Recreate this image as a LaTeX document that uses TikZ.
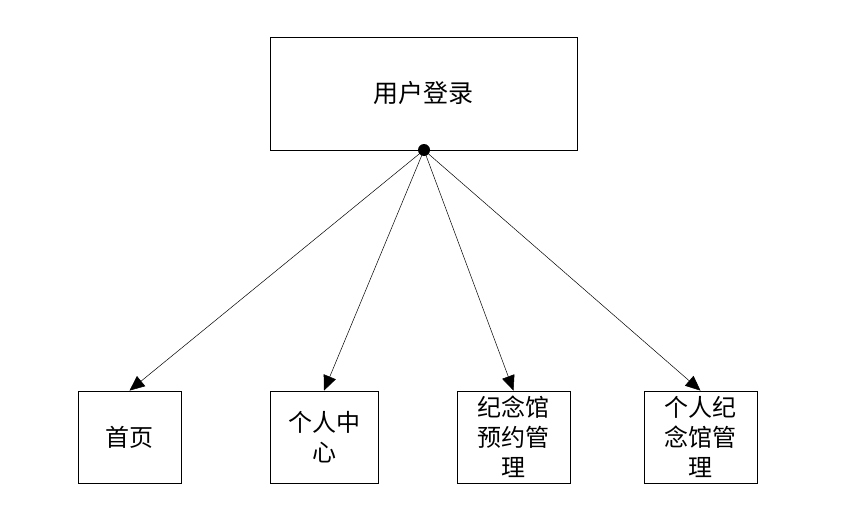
\documentclass[tikz,border=0pt]{standalone}
\usepackage{fontspec}
\newfontfamily\cjk{Noto Sans CJK SC}
\usetikzlibrary{arrows.meta,positioning}
\tikzset{
	box/.style={draw,rectangle,align=center,line width=0.8pt,inner sep=0pt,font=\cjk\fontsize{24}{30}\selectfont},
	part/.style={box,minimum height=92pt},
	hub/.style={circle,fill,inner sep=0pt,minimum size=12pt},
	link/.style={-{Triangle[length=15pt,width=13pt]},line width=0.5pt}
}
\begin{document}
\begin{tikzpicture}[x=1pt,y=-1pt]
            \useasboundingbox (0,0) rectangle (845,506);
            \node[box,minimum width=307pt,minimum height=113pt,font=\cjk\fontsize{25}{30}\selectfont] (login) at (423.5,93.5) {用户登录};
            \node[part,minimum width=103pt] (home) at (129.5,437) {首页};
            \node[part,minimum width=108pt] (center) at (324,437) {个人中\\心};
            \node[part,minimum width=113pt] (book) at (513.5,437) {纪念馆\\预约管\\理};
            \node[part,minimum width=113pt] (mine) at (700.5,437) {个人纪\\念馆管\\理};
            \node[hub] (dot) at (424,150) {};
            \draw[link] (dot.center) -- (home.north);
            \draw[link] (dot.center) -- (center.north);
            \draw[link] (dot.center) -- (book.north);
            \draw[link] (dot.center) -- (mine.north);
        \end{tikzpicture}
\end{document}
